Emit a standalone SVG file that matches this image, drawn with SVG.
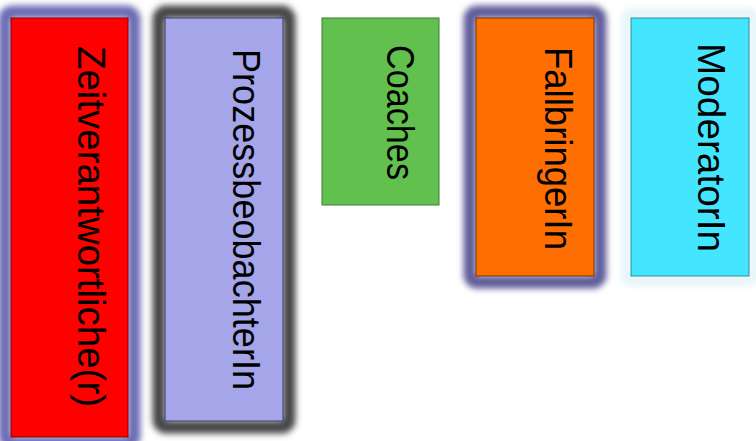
<svg xmlns="http://www.w3.org/2000/svg" width="756" height="441" viewBox="0 0 756 441">
<defs>
<style>
.lbl{font-family:"Liberation Sans","DejaVu Sans",sans-serif;font-size:38px;fill:#000}
</style>
<filter id="glow" x="-30%" y="-30%" width="160%" height="160%"><feGaussianBlur stdDeviation="3.4"/></filter>
</defs>
<rect width="756" height="441" fill="#fff"/>
<g id="zeit">
<rect x="5" y="12" width="129" height="431" rx="7" fill="none" stroke="#6a6ab4" stroke-width="13" filter="url(#glow)"/>
<rect x="11" y="18" width="117" height="419" fill="#ff0000" stroke="#8a0000" stroke-width="1"/>
<text class="lbl" transform="translate(78,46) rotate(90)" textLength="361" lengthAdjust="spacingAndGlyphs">Zeitverantwortliche(r)</text>
</g>
<g id="prozess">
<rect x="159" y="12" width="130" height="415" rx="7" fill="none" stroke="#444" stroke-width="13" filter="url(#glow)"/>
<rect x="165" y="18" width="118" height="403" fill="#a5a5ea" stroke="#3a3a70" stroke-width="1"/>
<text class="lbl" transform="translate(233,49) rotate(90)" textLength="341" lengthAdjust="spacingAndGlyphs">ProzessbeobachterIn</text>
</g>
<g id="coaches">
<rect x="322" y="18" width="117" height="187" fill="#62c14e" stroke="#3f7a32" stroke-width="1"/>
<text class="lbl" transform="translate(387,45) rotate(90)" textLength="135" lengthAdjust="spacingAndGlyphs">Coaches</text>
</g>
<g id="fallbringer">
<rect x="470" y="12" width="130" height="270" rx="7" fill="none" stroke="#5f5c9a" stroke-width="13" filter="url(#glow)"/>
<rect x="476" y="18" width="118" height="258" fill="#ff6e00" stroke="#7a3300" stroke-width="1"/>
<text class="lbl" transform="translate(545,47) rotate(90)" textLength="203" lengthAdjust="spacingAndGlyphs">FallbringerIn</text>
</g>
<g id="moderator">
<rect x="626" y="13" width="128" height="268" rx="6" fill="none" stroke="#e6f5f7" stroke-width="10" filter="url(#glow)"/>
<rect x="631" y="18" width="118" height="258" fill="#44e5ff" stroke="#2a8fa0" stroke-width="1"/>
<text class="lbl" transform="translate(698,43) rotate(90)" textLength="209" lengthAdjust="spacingAndGlyphs">ModeratorIn</text>
</g>
<g id="connectors"/>
</svg>
